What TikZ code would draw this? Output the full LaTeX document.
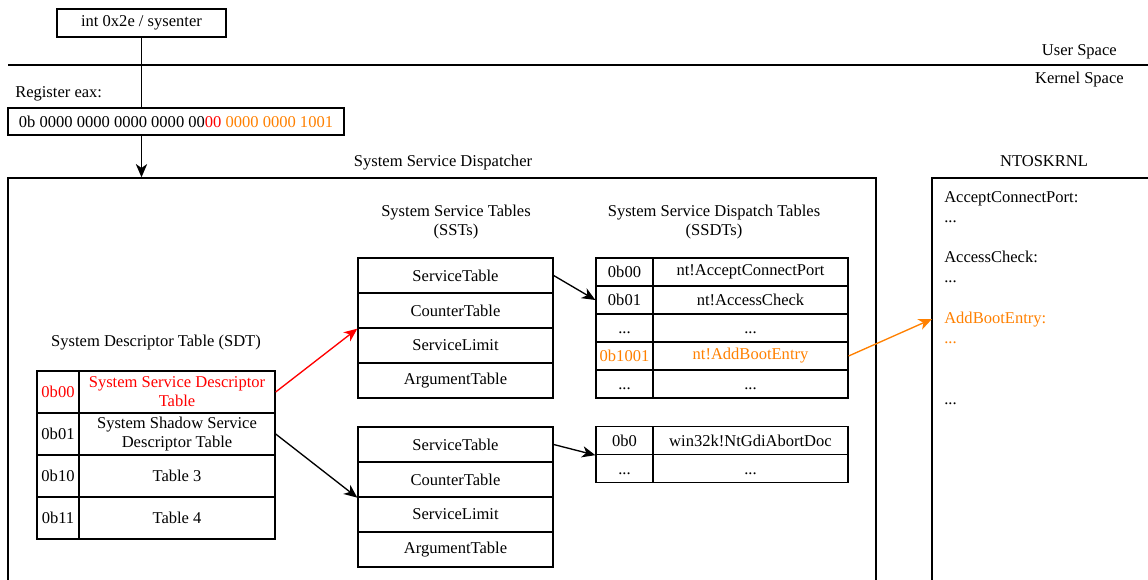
\documentclass[tikz,border=0pt]{standalone}
\usepackage{fontspec}
\setmainfont{Liberation Serif}
\usetikzlibrary{arrows.meta}
\definecolor{dred}{HTML}{FF0000}
\definecolor{dorange}{HTML}{FF8000}
\newcommand\celldots{\vphantom{0b}...}
\begin{document}
\begin{tikzpicture}[x=0.75pt,y=-0.75pt,
  every node/.style={font=\fontsize{12.4}{14.25}\selectfont, inner sep=0pt},
  cell/.style={draw, line width=1pt, align=center},
  lbl/.style={align=center},
  conn/.style={line width=1pt, -{Stealth[length=10pt,width=8.5pt,inset=3pt]}},
  plain/.style={line width=1pt}
]
\clip (0,0) rectangle (1148,580);
% top box and layer line
\node[cell, minimum width=169*0.75pt, minimum height=28*0.75pt] (sys) at (141.5,23) {int 0x2e / sysenter};
\coordinate (ll) at (8,65);
\coordinate (lr) at (1160,65);
\draw[plain] (ll) -- (lr);
\node[anchor=base east] (us) at (1117,56) {User Space};
\node[anchor=base east] (ks) at (1124,84) {Kernel Space};
\node[anchor=base west] (regl) at (15,98) {Register eax:};
\node[cell, minimum width=336*0.75pt, minimum height=27*0.75pt] (eax) at (176,121.5)
  {0b 0000 0000 0000 0000 00\textcolor{dred}{00}\ \textcolor{dorange}{0000 0000 1001}};
% dispatcher and ntoskrnl boxes
\node[anchor=base] (displ) at (443,167) {System Service Dispatcher};
\node[draw, line width=1pt, minimum width=868*0.75pt, minimum height=440*0.75pt] (disp) at (442,398) {};
\node[anchor=base] (ntl) at (1044,167) {NTOSKRNL};
\node[draw, line width=1pt, minimum width=240*0.75pt, minimum height=440*0.75pt] (ntos) at (1052,398) {};
\draw[plain] (sys.south) -- (sys.south |- eax.north);
\draw[conn] (sys.south |- eax.south) -- (sys.south |- disp.north);
% NTOSKRNL contents
\node[anchor=base west] (n1) at (944,203) {AcceptConnectPort:};
\node[anchor=base west] (n2) at (944,223) {...};
\node[anchor=base west] (n3) at (944,263) {AccessCheck:};
\node[anchor=base west] (n4) at (944,283) {...};
\node[anchor=base west, text=dorange] (n5) at (944,324) {AddBootEntry:};
\node[anchor=base west, text=dorange] (n6) at (944,344) {...};
\node[anchor=base west] (n7) at (944,405) {...};
\coordinate (ntin) at (932,319);
% SDT
\node[anchor=base] (sdtl) at (156,347) {System Descriptor Table (SDT)};
\node[cell, minimum width=42*0.75pt, minimum height=42*0.75pt, text=dred] (s0a) at (58,392) {0b00};
\node[cell, minimum width=196*0.75pt, minimum height=42*0.75pt, text=dred] (s0b) at (177,392) {System Service Descriptor\\Table};
\node[cell, minimum width=42*0.75pt, minimum height=42*0.75pt] (s1a) at (58,434) {0b01};
\node[cell, minimum width=196*0.75pt, minimum height=42*0.75pt] (s1b) at (177,434) {System Shadow Service\\Descriptor Table};
\node[cell, minimum width=42*0.75pt, minimum height=42*0.75pt] (s2a) at (58,476) {0b10};
\node[cell, minimum width=196*0.75pt, minimum height=42*0.75pt] (s2b) at (177,476) {Table 3};
\node[cell, minimum width=42*0.75pt, minimum height=42*0.75pt] (s3a) at (58,518) {0b11};
\node[cell, minimum width=196*0.75pt, minimum height=42*0.75pt] (s3b) at (177,518) {Table 4};
% SSTs
\node[lbl] (sstl) at (456,222) {System Service Tables\\(SSTs)};
\tikzset{sst/.style={cell, minimum width=195*0.75pt, minimum height=35*0.75pt}}
\node[sst] (a0) at (455.5,275.5) {ServiceTable};
\node[sst] (a1) at (455.5,310.5) {CounterTable};
\node[sst] (a2) at (455.5,345.5) {ServiceLimit};
\node[sst] (a3) at (455.5,380.5) {ArgumentTable};
\node[sst] (b0) at (455.5,444.5) {ServiceTable};
\node[sst] (b1) at (455.5,479.5) {CounterTable};
\node[sst] (b2) at (455.5,514.5) {ServiceLimit};
\node[sst] (b3) at (455.5,549.5) {ArgumentTable};
% SSDTs
\node[lbl] (ssdtl) at (714,222) {System Service Dispatch Tables\\(SSDTs)};
\tikzset{ca/.style={cell, minimum width=57*0.75pt, minimum height=28*0.75pt},
         cb/.style={cell, minimum width=195*0.75pt, minimum height=28*0.75pt}}
\node[ca] (d0a) at (624.5,272) {0b00};
\node[cb] (d0b) at (750.5,272) {nt!AcceptConnectPort};
\node[ca] (d1a) at (624.5,300) {0b01};
\node[cb] (d1b) at (750.5,300) {nt!AccessCheck};
\node[ca] (d2a) at (624.5,328) {\celldots};
\node[cb] (d2b) at (750.5,328) {\celldots};
\node[ca, text=dorange] (d3a) at (624.5,356) {0b1001};
\node[cb, text=dorange] (d3b) at (750.5,356) {nt!AddBootEntry};
\node[ca] (d4a) at (624.5,384) {\celldots};
\node[cb] (d4b) at (750.5,384) {\celldots};
\node[ca] (e0a) at (624.5,440.5) {0b0};
\node[cb] (e0b) at (750.5,440.5) {win32k!NtGdiAbortDoc};
\node[ca] (e1a) at (624.5,468.5) {\celldots};
\node[cb] (e1b) at (750.5,468.5) {\celldots};
% connectors
\draw[conn, draw=dred, fill=dred] (s0b.east) -- (a1.south west);
\draw[conn] (s1b.east) -- (b1.south west);
\draw[conn] (a0.east) -- (d1a.west);
\draw[conn] (b0.east) -- (e0a.south west);
\draw[conn, draw=dorange, fill=dorange] (d3b.east) -- (ntin);
\end{tikzpicture}
\end{document}
